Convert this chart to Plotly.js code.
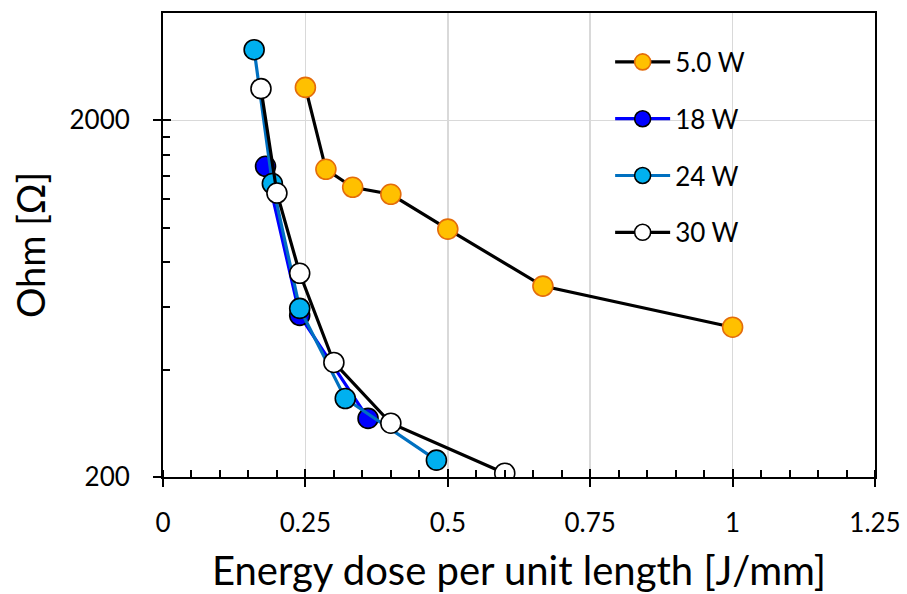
<!DOCTYPE html>
<html>
<head>
<meta charset="utf-8">
<script src="https://cdn.plot.ly/plotly-3.0.1.min.js"></script>
<style>html,body{margin:0;padding:0;background:#fff;}#chart{width:907px;height:594px;}</style>
</head>
<body>
<div id="chart"></div>
<script>
// Data
const seriesNames = ["5.0 W", "18 W", "24 W", "30 W"];
const x5W  = [0.25, 0.286, 0.333, 0.40, 0.50, 0.667, 1.00];
const y5W  = [2474, 1458, 1298, 1241, 991, 686, 526];
const x18W = [0.18, 0.24, 0.36];
const y18W = [1487, 568, 292];
const x24W = [0.16, 0.192, 0.24, 0.32, 0.48];
const y24W = [3156, 1330, 594, 332, 223];
const x30W = [0.172, 0.20, 0.24, 0.30, 0.40, 0.60];
const y30W = [2454, 1251, 745, 419, 283, 205];

const xTickVals = [0, 0.25, 0.5, 0.75, 1, 1.25];
const xTickText = ["0", "0.25", "0.5", "0.75", "1", "1.25"];
const yTickVals = [200, 2000];
const yTickText = ["200", "2000"];
const yMinorVals = [400, 600, 800, 1000, 1200, 1400, 1600, 1800];

const FONT = "Lato, 'Open Sans', sans-serif";
const mk = (fill, border) => ({size: 20, color: fill, line: {color: border, width: 1.6}});

const traces = [
  {x: x5W, y: y5W, name: seriesNames[0], legendgroup: "a", mode: "lines+markers",
   line: {color: "#000000", width: 3.2}, marker: mk("#FFC000", "#E46C0A")},
  {x: x18W, y: y18W, name: seriesNames[1], legendgroup: "b", mode: "lines+markers",
   line: {color: "#0000FF", width: 3.2}, marker: mk("#0000FF", "#000000")},
  {x: x24W, y: y24W, name: seriesNames[2], legendgroup: "c", mode: "lines+markers",
   line: {color: "#0070C0", width: 3.2}, marker: mk("#00B0F0", "#000000")},
  {x: x30W, y: y30W, name: seriesNames[3], legendgroup: "d", mode: "lines+markers",
   line: {color: "#000000", width: 3.2}, marker: mk("#FFFFFF", "#000000")},
  {x: [], y: [], xaxis: "x2", yaxis: "y2", showlegend: false, hoverinfo: "skip"}
];

const yr = [Math.log10(200), Math.log10(4000)];
const layout = {
  width: 907, height: 594,
  paper_bgcolor: "#fff", plot_bgcolor: "#fff",
  margin: {l: 163, r: 32, t: 13, b: 117},
  font: {family: FONT, color: "#000", size: 26},
  showlegend: true,
  legend: {x: 0.628, y: 0.945, xanchor: "left", yanchor: "top", bgcolor: "rgba(0,0,0,0)",
           font: {size: 26, family: FONT}, tracegroupgap: 20, itemwidth: 55},
  xaxis: {
    range: [0, 1.25], tickmode: "array", tickvals: xTickVals, ticktext: xTickText,
    showline: true, linecolor: "#000", linewidth: 2, mirror: true,
    ticks: "outside", ticklen: 8, tickwidth: 2, tickcolor: "#000",
    showgrid: true, gridcolor: "#d9d9d9", gridwidth: 1.5, zeroline: false,
    tickfont: {size: 26, family: FONT}, ticklabelstandoff: 14,
    minor: {tickmode: "linear", tick0: 0, dtick: 0.05, ticks: "inside", ticklen: 7, tickwidth: 2, tickcolor: "#000", showgrid: false},
    title: {text: "Energy dose per unit length [J/mm]", font: {size: 40, family: FONT}, standoff: 25},
    automargin: false
  },
  yaxis: {
    type: "log", range: yr, tickmode: "array", tickvals: yTickVals, ticktext: yTickText,
    showline: true, linecolor: "#000", linewidth: 2, mirror: true,
    ticks: "outside", ticklen: 8, tickwidth: 2, tickcolor: "#000",
    showgrid: true, gridcolor: "#d9d9d9", gridwidth: 1.5, zeroline: false,
    tickfont: {size: 26, family: FONT}, ticklabelstandoff: 18,
    minor: {tickmode: "array", tickvals: yMinorVals, ticks: "inside", ticklen: 7, tickwidth: 2, tickcolor: "#000", showgrid: false},
    title: {text: "Ohm [Ω]", font: {size: 38, family: FONT}, standoff: 12},
    automargin: false
  },
  xaxis2: {overlaying: "x", anchor: "y2", side: "bottom", range: [0, 1.25], tickmode: "array", tickvals: xTickVals,
           ticks: "inside", ticklen: 8, tickwidth: 2, tickcolor: "#000", showticklabels: false,
           showgrid: false, showline: false, zeroline: false},
  yaxis2: {overlaying: "y", anchor: "x2", side: "left", type: "log", range: yr, tickmode: "array", tickvals: yTickVals,
           ticks: "inside", ticklen: 8, tickwidth: 2, tickcolor: "#000", showticklabels: false,
           showgrid: false, showline: false, zeroline: false}
};

Plotly.newPlot("chart", traces, layout, {displayModeBar: false, staticPlot: true});
</script>
</body>
</html>
